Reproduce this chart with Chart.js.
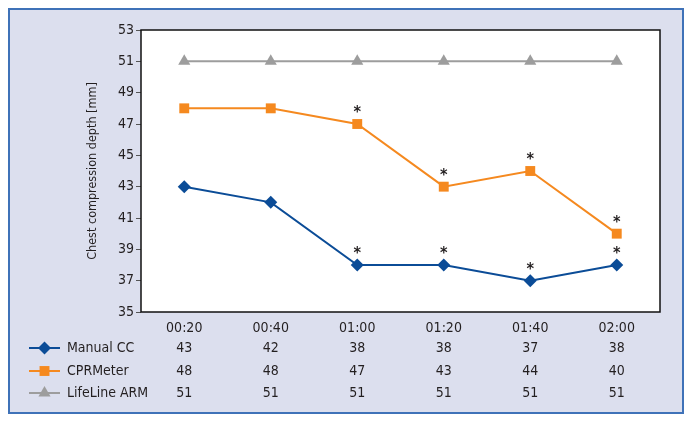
<!DOCTYPE html>
<html>
<head>
<meta charset="utf-8">
<script src="https://cdn.jsdelivr.net/npm/chart.js@4/dist/chart.umd.min.js"></script>
<style>
  html, body { margin: 0; padding: 0; background: #fff; }
  #wrap { width: 693px; height: 422px; position: relative; }
</style>
</head>
<body>
<div id="wrap"><canvas id="chart" width="693" height="422"></canvas></div>
<script>
// Chart data
const timeLabels = ['00:20', '00:40', '01:00', '01:20', '01:40', '02:00']
const manualCC = [43, 42, 38, 38, 37, 38]
const cprMeter = [48, 48, 47, 43, 44, 40]
const lifelineArm = [51, 51, 51, 51, 51, 51]
// points marked as significant (*)
const manualStars = [false, false, true, true, true, true]
const cprStars = [false, false, true, true, true, true]
const yTicks = [35, 37, 39, 41, 43, 45, 47, 49, 51, 53]

const FONT = "'DejaVu Sans Condensed', 'Liberation Sans Narrow', sans-serif"
const TEXT = '#231f20'

const series = [
    { label: 'Manual CC', data: manualCC, color: '#0b4c97', style: 'rectRot', radius: 6.5, stars: manualStars },
    { label: 'CPRMeter', data: cprMeter, color: '#f5891f', style: 'rect', radius: 7, stars: cprStars },
    { label: 'LifeLine ARM', data: lifelineArm, color: '#9d9d9d', style: 'triangle', radius: 7, stars: null }
]

// frame + white plot background
const framePlugin = {
    id: 'frame',
    beforeDraw(chart) {
        const { ctx, chartArea } = chart
        ctx.save()
        ctx.fillStyle = '#ffffff'
        ctx.fillRect(0, 0, chart.width, chart.height)
        ctx.fillStyle = '#dcdfee'
        ctx.fillRect(9, 9, 674, 404)
        ctx.strokeStyle = '#3f72b8'
        ctx.lineWidth = 2
        ctx.strokeRect(9, 9, 674, 404)
        ctx.fillStyle = '#ffffff'
        ctx.fillRect(chartArea.left, chartArea.top, chartArea.right - chartArea.left, chartArea.bottom - chartArea.top)
        ctx.restore()
    },
    afterDraw(chart) {
        const { ctx, chartArea } = chart
        ctx.save()
        ctx.strokeStyle = '#111'
        ctx.lineWidth = 1.5
        ctx.strokeRect(chartArea.left, chartArea.top, chartArea.right - chartArea.left, chartArea.bottom - chartArea.top)
        ctx.restore()
    }
}

// asterisks above significant points
const starPlugin = {
    id: 'stars',
    afterDatasetsDraw(chart) {
        const { ctx } = chart
        ctx.save()
        ctx.fillStyle = TEXT
        ctx.font = 'bold 16px ' + FONT
        ctx.textAlign = 'center'
        ctx.textBaseline = 'middle'
        series.forEach((s, i) => {
            if (!s.stars) return
            const meta = chart.getDatasetMeta(i)
            meta.data.forEach((pt, j) => {
                if (s.stars[j]) ctx.fillText('*', pt.x, pt.y - 11)
            })
        })
        ctx.restore()
    }
}

// data table with legend under the x axis
const tablePlugin = {
    id: 'dataTable',
    afterDraw(chart) {
        const { ctx } = chart
        const x = chart.scales.x
        const rowY = [348, 371, 393]
        ctx.save()
        ctx.font = '14px ' + FONT
        ctx.fillStyle = TEXT
        ctx.textBaseline = 'middle'
        series.forEach((s, i) => {
            const y = rowY[i]
            ctx.strokeStyle = s.color
            ctx.lineWidth = 2
            ctx.beginPath()
            ctx.moveTo(29, y)
            ctx.lineTo(60, y)
            ctx.stroke()
            ctx.fillStyle = s.color
            Chart.helpers.drawPoint(ctx, { pointStyle: s.style, radius: s.radius, borderWidth: 0 }, 44.5, y)
            ctx.fillStyle = TEXT
            ctx.textAlign = 'left'
            ctx.fillText(s.label, 67, y)
            ctx.textAlign = 'center'
            s.data.forEach((v, j) => {
                ctx.fillText(String(v), x.getPixelForValue(j), y)
            })
        })
        ctx.restore()
    }
}

const ctx = document.getElementById('chart').getContext('2d')
new Chart(ctx, {
    type: 'line',
    data: {
        labels: timeLabels,
        datasets: series.map(s => ({
            label: s.label,
            data: s.data,
            borderColor: s.color,
            backgroundColor: s.color,
            borderWidth: 2,
            pointStyle: s.style,
            pointRadius: s.radius,
            pointBorderWidth: 0,
            tension: 0,
            fill: false
        }))
    },
    options: {
        responsive: false,
        animation: false,
        layout: { padding: { left: 85, top: 30, right: 33, bottom: 0 } },
        plugins: {
            legend: { display: false },
            tooltip: { enabled: false }
        },
        scales: {
            x: {
                offset: true,
                grid: { display: false, drawTicks: false },
                border: { display: false },
                ticks: { color: TEXT, font: { family: FONT, size: 14 }, padding: 8, maxRotation: 0 },
                afterFit: (scale) => { scale.height = 110 }
            },
            y: {
                min: 35,
                max: 53,
                afterBuildTicks: (scale) => { scale.ticks = yTicks.map(v => ({ value: v })) },
                grid: { drawOnChartArea: false, tickLength: 5, color: '#555', lineWidth: 1 },
                border: { display: false },
                ticks: { color: TEXT, font: { family: FONT, size: 14 }, padding: 2 },
                title: {
                    display: true,
                    text: 'Chest compression depth [mm]',
                    color: TEXT,
                    font: { family: FONT, size: 12.5 },
                    padding: { top: 0, bottom: 0 }
                },
                afterFit: (scale) => { scale.width = 56 }
            }
        }
    },
    plugins: [framePlugin, starPlugin, tablePlugin]
})
</script>
</body>
</html>
